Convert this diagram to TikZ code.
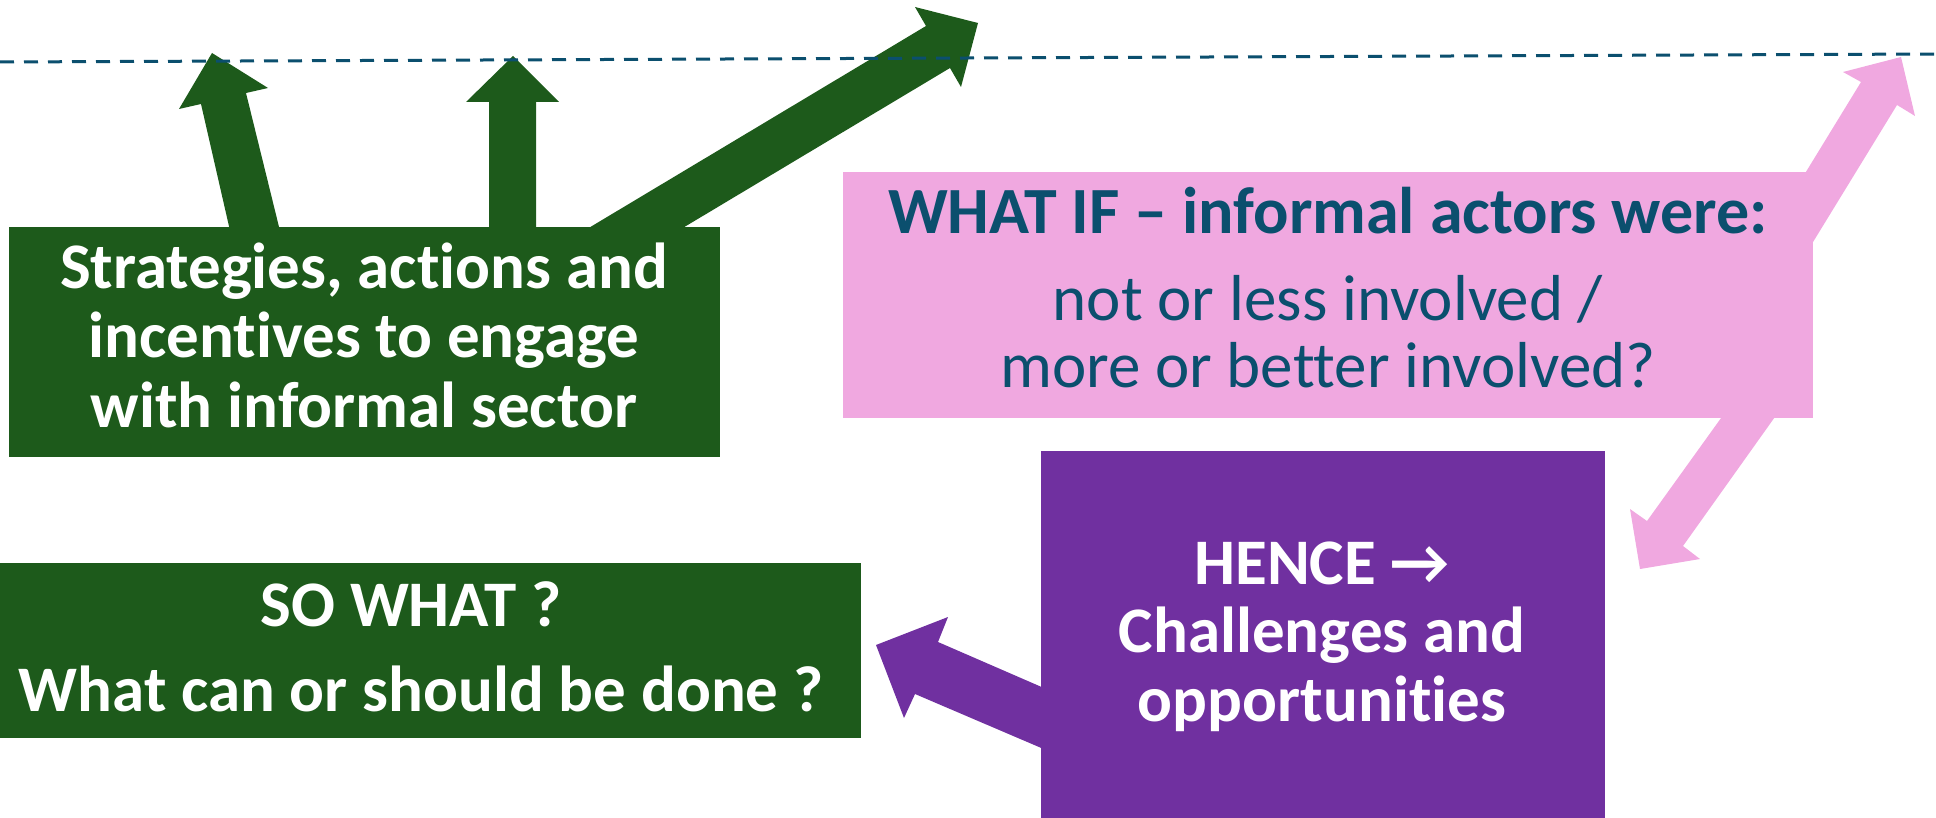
\documentclass[tikz,border=0pt]{standalone}
\usepackage{fontspec}
\setmainfont{Carlito}[Ligatures=NoCommon]
\definecolor{dkgreen}{HTML}{1D5A1B}
\definecolor{pinkbox}{HTML}{F0A8E0}
\definecolor{purplebox}{HTML}{7030A0}
\definecolor{tealtext}{HTML}{0B4F6E}
\tikzset{
  box/.style={draw=none, inner sep=0pt, outer sep=0pt},
  wt/.style={anchor=base, inner sep=0pt, text=white, font=\bfseries\fontsize{65}{69}\selectfont},
  pbold/.style={anchor=base, inner sep=0pt, text=tealtext, font=\bfseries\fontsize{66}{69}\selectfont},
  preg/.style={anchor=base, inner sep=0pt, text=tealtext, font=\fontsize{65}{69}\selectfont},
  garrow/.style={fill=dkgreen, draw=none},
  parrow/.style={fill=pinkbox, draw=none},
  varrow/.style={fill=purplebox, draw=none},
  dashline/.style={draw=tealtext, line width=3pt, dash pattern=on 14pt off 10pt}
}
\begin{document}
\begin{tikzpicture}[x=1pt, y=-1pt]
\useasboundingbox (0,0) rectangle (1936,818);
% block arrows (drawn first, boxes cover their bases)
\fill[garrow] (231,235) -- (281,235) -- (246,93) -- (268,88) -- (212,53) -- (179,109) -- (201,104) -- cycle;
\fill[garrow] (489,235) -- (536,235) -- (536,102) -- (559,102) -- (513,56) -- (466,102) -- (489,102) -- cycle;
\fill[garrow] (577,235) -- (671,235) -- (950,68) -- (961,87) -- (978,23) -- (915,7) -- (926,26) -- cycle;
\fill[parrow] (1752,260) -- (1802,260) -- (1897,105) -- (1915,116) -- (1901,57) -- (1843,72) -- (1861,82) -- cycle;
\fill[parrow] (1734,400) -- (1787,400) -- (1683,546) -- (1700,559) -- (1640,569) -- (1630,509) -- (1647,521) -- cycle;
\fill[varrow] (1060,695) -- (938,642) -- (948,617) -- (876,645) -- (904,718) -- (915,694) -- (1060,756) -- cycle;
% boxes
\node[box, fill=dkgreen, minimum width=711pt, minimum height=230pt] (g1) at (364.5,342) {};
\node[box, fill=pinkbox, minimum width=970pt, minimum height=246pt] (pk) at (1328,295) {};
\node[box, fill=purplebox, minimum width=564pt, minimum height=367pt] (pu) at (1323,634.5) {};
\node[box, fill=dkgreen, minimum width=861pt, minimum height=175pt] (g2) at (430.5,650.5) {};
% texts
\node[wt] (g1a) at (364,289) {Strategies, actions and};
\node[wt] (g1b) at (364,358) {incentives to engage};
\node[wt] (g1c) at (364,427) {with informal sector};
\node[pbold] (p1) at (1328,234) {WHAT IF – informal actors were:};
\node[preg] (p2) at (1328,320) {not or less involved /};
\node[preg] (p3) at (1328,388) {more or better involved?};
\node[wt] (h1) at (1322,584) {HENCE →};
\node[wt] (h2) at (1322,652) {Challenges and};
\node[wt] (h3) at (1322,721) {opportunities};
\node[wt] (s1) at (411,626) {SO WHAT ?};
\node[wt] (s2) at (421,711) {What can or should be done ?};
% dashed line
\coordinate (dl) at (0,62);
\coordinate (dr) at (1936,54);
\draw[dashline] (dl) -- (dr);
\end{tikzpicture}
\end{document}
